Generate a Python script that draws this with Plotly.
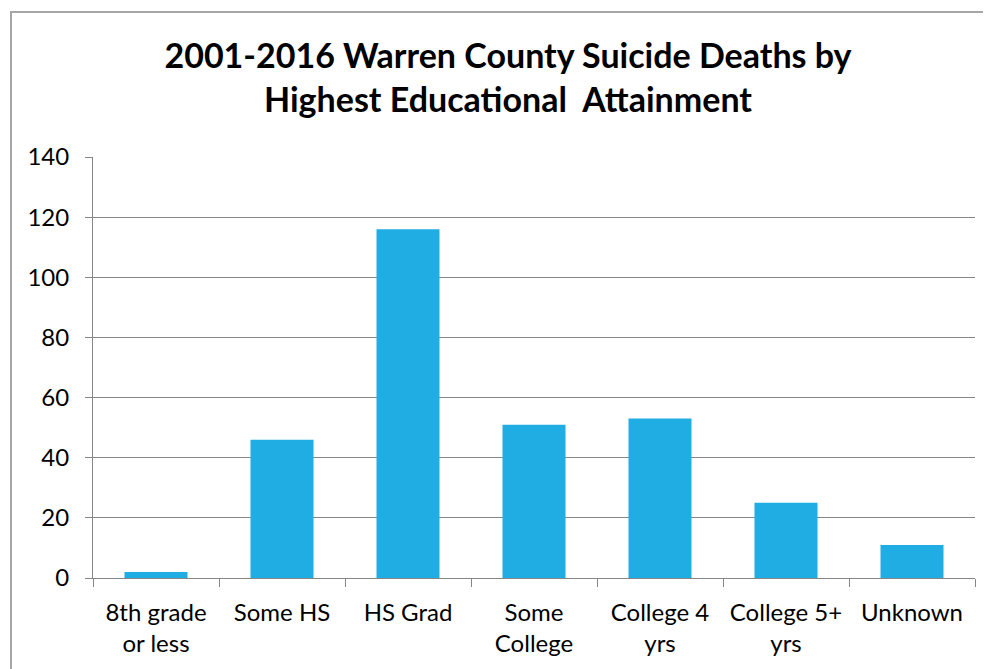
import plotly.graph_objects as go

categories = ["8th grade<br>or less", "Some HS", "HS Grad", "Some<br>College",
              "College 4<br>yrs", "College 5+<br>yrs", "Unknown"]
deaths = [2, 46, 116, 51, 53, 25, 11]
y_ticks = [0, 20, 40, 60, 80, 100, 120, 140]

W, H = 991, 669
OFF = 8  # page body margin shifts the figure
L, T = 93 - OFF, 157 - OFF
pw, ph = 882, 421
R = W - L - pw
B = H - T - ph

fig = go.Figure(go.Bar(x=categories, y=deaths, marker_color="#1FADE4",
                       marker_line_width=0))

# outer chart border (pixel positions converted to paper coords)
fig.add_shape(type="rect", xref="paper", yref="paper",
              x0=(11 - OFF - L) / pw, x1=(W + 20 - L) / pw,
              y0=(T + ph - (H + 20)) / ph, y1=(T + ph - (12 - OFF)) / ph,
              line=dict(color="#A6A6A6", width=2), fillcolor="rgba(0,0,0,0)",
              layer="below")

fig.update_layout(
    width=W, height=H,
    margin=dict(l=L, r=R, t=T, b=B),
    paper_bgcolor="white", plot_bgcolor="white",
    font=dict(family="Lato", size=24, color="black"),
    title=dict(text="<b>2001-2016 Warren County Suicide Deaths by<br>Highest Educational  Attainment</b>",
               x=(508 - OFF) / W, xref="container", xanchor="center",
               y=1 - 60 / H, yanchor="top", font=dict(size=34)),
    bargap=0.5,
    showlegend=False,
)
fig.update_xaxes(showline=True, linecolor="#868686", linewidth=1,
                 ticks="outside", tickson="boundaries", ticklen=8,
                 tickcolor="#868686", showgrid=False, automargin=False,
                 ticklabelstandoff=13)
fig.update_yaxes(range=[0, 140], tickvals=y_ticks, showline=True,
                 linecolor="#868686", linewidth=1, ticks="outside", ticklen=7,
                 tickcolor="#868686", gridcolor="#868686", gridwidth=1,
                 zeroline=False, ticklabelstandoff=11, automargin=False)

fig.write_html("out.html")
